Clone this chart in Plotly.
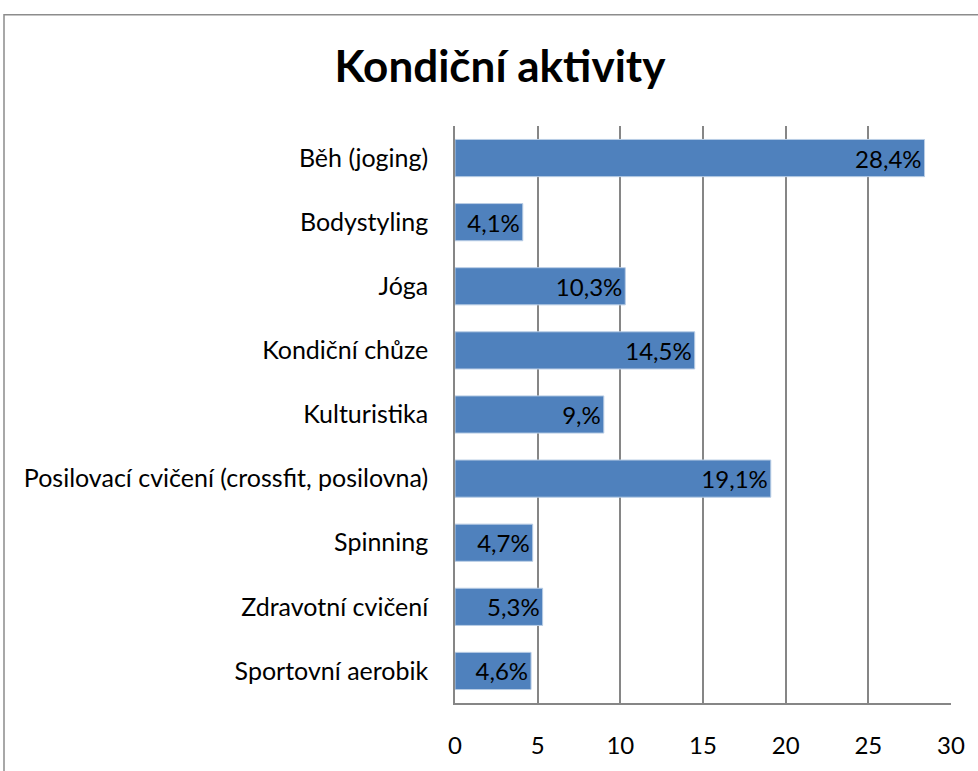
import plotly.graph_objects as go

categories = ["Běh (joging)", "Bodystyling", "Jóga", "Kondiční chůze", "Kulturistika",
              "Posilovací cvičení (crossfit, posilovna)", "Spinning", "Zdravotní cvičení",
              "Sportovní aerobik"]
values = [28.4, 4.1, 10.3, 14.5, 9.0, 19.1, 4.7, 5.3, 4.6]
labels = ["28,4%", "4,1%", "10,3%", "14,5%", "9,%", "19,1%", "4,7%", "5,3%", "4,6%"]
x_ticks = [0, 5, 10, 15, 20, 25, 30]

W, H = 978, 771
L, R, T, B = 455, 951, 126, 712

fig = go.Figure(go.Bar(
    y=categories, x=values, orientation="h",
    text=labels, textposition="inside", insidetextanchor="end",
    constraintext="none",
    textfont=dict(family="Lato", size=24, color="black"),
    marker=dict(color="#4F81BD", line=dict(color="#B9CDE5", width=1)),
    width=0.58,
))

fig.update_layout(
    width=W, height=H,
    margin=dict(l=L, r=W - R, t=T, b=H - B),
    paper_bgcolor="white", plot_bgcolor="white",
    font=dict(family="Lato", size=24, color="black"),
    title=dict(text="<b>Kondiční aktivity</b>", x=500 / W, xanchor="center",
               y=1 - 67 / H, yanchor="middle",
               font=dict(family="Lato", size=44, color="black")),
    showlegend=False,
    xaxis=dict(range=[0, 30], tickvals=x_ticks, ticktext=[str(v) for v in x_ticks],
               showgrid=True, gridcolor="#868686", gridwidth=1.5,
               zeroline=False, showline=True, linecolor="#868686", linewidth=1.5,
               ticks="", ticklabelstandoff=20, fixedrange=True),
    yaxis=dict(autorange="reversed", showgrid=False, zeroline=False,
               showline=True, linecolor="#868686", linewidth=1.5,
               ticks="", ticklabelstandoff=20, tickfont=dict(size=25)),
    shapes=[dict(type="rect", xref="paper", yref="paper",
                 x0=(4 - L) / (R - L), x1=(990 - L) / (R - L),
                 y0=(B - 790) / (B - T), y1=(B - 13) / (B - T),
                 line=dict(color="#8C8C8C", width=1.5), fillcolor="rgba(0,0,0,0)",
                 layer="below")],
)

fig.write_html("out.html", config={"displayModeBar": False},
               post_script="document.body.style.margin='0';document.body.style.padding='0';")
